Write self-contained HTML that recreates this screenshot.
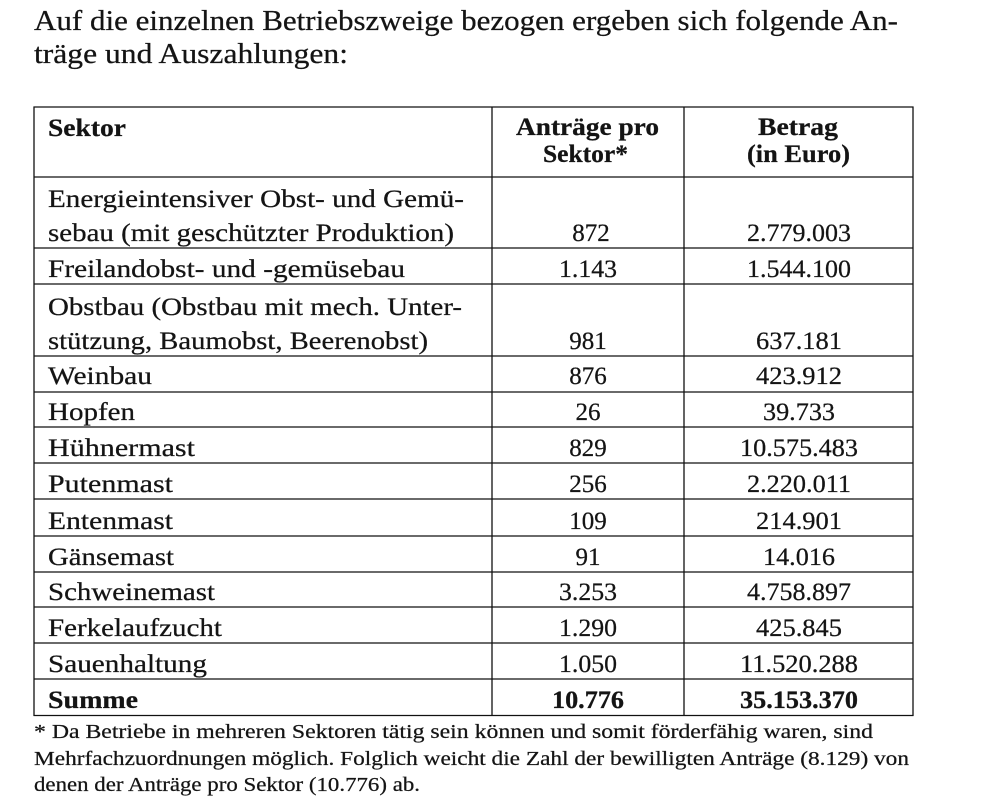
<!DOCTYPE html>
<html>
<head>
<meta charset="utf-8">
<style>
html,body{margin:0;padding:0;background:#fff;}
svg{display:block;}
text{font-family:"Liberation Serif","DejaVu Serif",serif;fill:#141414;stroke:#141414;stroke-width:0.25;}
.t{font-size:28px;}
.h{font-size:25px;font-weight:bold;}
.b{font-size:25px;}
.bb{font-size:25px;font-weight:bold;}
.f{font-size:20px;}
.c{text-anchor:middle;}
</style>
</head>
<body>
<svg width="997" height="802" viewBox="0 0 997 802" xmlns="http://www.w3.org/2000/svg">
<rect width="997" height="802" fill="#fff"/>

<!-- Title -->
<text class="t" x="34" y="30" textLength="864" lengthAdjust="spacingAndGlyphs">Auf die einzelnen Betriebszweige bezogen ergeben sich folgende An-</text>
<text class="t" x="34" y="63" textLength="314" lengthAdjust="spacingAndGlyphs">träge und Auszahlungen:</text>

<!-- Table lines -->
<g stroke="#111" stroke-width="1.3" fill="none">
  <line x1="34" y1="106.5" x2="34" y2="716"/>
  <line x1="492" y1="106.5" x2="492" y2="716"/>
  <line x1="684" y1="106.5" x2="684" y2="716"/>
  <line x1="913" y1="106.5" x2="913" y2="716"/>
  <line x1="33.5" y1="107" x2="913.5" y2="107"/>
  <line x1="33.5" y1="177" x2="913.5" y2="177"/>
  <line x1="33.5" y1="248" x2="913.5" y2="248"/>
  <line x1="33.5" y1="284" x2="913.5" y2="284"/>
  <line x1="33.5" y1="356" x2="913.5" y2="356"/>
  <line x1="33.5" y1="392" x2="913.5" y2="392"/>
  <line x1="33.5" y1="427" x2="913.5" y2="427"/>
  <line x1="33.5" y1="463" x2="913.5" y2="463"/>
  <line x1="33.5" y1="499" x2="913.5" y2="499"/>
  <line x1="33.5" y1="536" x2="913.5" y2="536"/>
  <line x1="33.5" y1="572" x2="913.5" y2="572"/>
  <line x1="33.5" y1="607" x2="913.5" y2="607"/>
  <line x1="33.5" y1="643" x2="913.5" y2="643"/>
  <line x1="33.5" y1="679" x2="913.5" y2="679"/>
  <line x1="33.5" y1="715.5" x2="913.5" y2="715.5"/>
</g>

<!-- Header -->
<text class="h" x="48" y="136" textLength="78" lengthAdjust="spacingAndGlyphs">Sektor</text>
<text class="h c" x="587.5" y="135" textLength="143" lengthAdjust="spacingAndGlyphs">Anträge pro</text>
<text class="h c" x="585.5" y="162" textLength="85" lengthAdjust="spacingAndGlyphs">Sektor*</text>
<text class="h c" x="798" y="135" textLength="80" lengthAdjust="spacingAndGlyphs">Betrag</text>
<text class="h c" x="798.5" y="162" textLength="103" lengthAdjust="spacingAndGlyphs">(in Euro)</text>

<!-- Rows -->
<text class="b" x="48" y="207" textLength="416" lengthAdjust="spacingAndGlyphs">Energieintensiver Obst- und Gemü-</text>
<text class="b" x="48" y="241" textLength="406" lengthAdjust="spacingAndGlyphs">sebau (mit geschützter Produktion)</text>
<text class="b c" x="591" y="241">872</text>
<text class="b c" x="799" y="241" textLength="104" lengthAdjust="spacingAndGlyphs">2.779.003</text>

<text class="b" x="48" y="277" textLength="357" lengthAdjust="spacingAndGlyphs">Freilandobst- und -gemüsebau</text>
<text class="b c" x="588" y="277" textLength="58" lengthAdjust="spacingAndGlyphs">1.143</text>
<text class="b c" x="799" y="277" textLength="104" lengthAdjust="spacingAndGlyphs">1.544.100</text>

<text class="b" x="48" y="315" textLength="414" lengthAdjust="spacingAndGlyphs">Obstbau (Obstbau mit mech. Unter-</text>
<text class="b" x="48" y="349" textLength="380" lengthAdjust="spacingAndGlyphs">stützung, Baumobst, Beerenobst)</text>
<text class="b c" x="588" y="349">981</text>
<text class="b c" x="799" y="349" textLength="86" lengthAdjust="spacingAndGlyphs">637.181</text>

<text class="b" x="48" y="384" textLength="104" lengthAdjust="spacingAndGlyphs">Weinbau</text>
<text class="b c" x="588" y="384">876</text>
<text class="b c" x="799" y="384" textLength="86" lengthAdjust="spacingAndGlyphs">423.912</text>

<text class="b" x="48" y="420" textLength="87" lengthAdjust="spacingAndGlyphs">Hopfen</text>
<text class="b c" x="588" y="420">26</text>
<text class="b c" x="799" y="420" textLength="72" lengthAdjust="spacingAndGlyphs">39.733</text>

<text class="b" x="48" y="456" textLength="147" lengthAdjust="spacingAndGlyphs">Hühnermast</text>
<text class="b c" x="588" y="456">829</text>
<text class="b c" x="799" y="456" textLength="118" lengthAdjust="spacingAndGlyphs">10.575.483</text>

<text class="b" x="48" y="492" textLength="125" lengthAdjust="spacingAndGlyphs">Putenmast</text>
<text class="b c" x="588" y="492">256</text>
<text class="b c" x="799" y="492" textLength="104" lengthAdjust="spacingAndGlyphs">2.220.011</text>

<text class="b" x="48" y="529" textLength="125" lengthAdjust="spacingAndGlyphs">Entenmast</text>
<text class="b c" x="588" y="529">109</text>
<text class="b c" x="799" y="529" textLength="86" lengthAdjust="spacingAndGlyphs">214.901</text>

<text class="b" x="48" y="565" textLength="126" lengthAdjust="spacingAndGlyphs">Gänsemast</text>
<text class="b c" x="588" y="565">91</text>
<text class="b c" x="799" y="565" textLength="72" lengthAdjust="spacingAndGlyphs">14.016</text>

<text class="b" x="48" y="600" textLength="167" lengthAdjust="spacingAndGlyphs">Schweinemast</text>
<text class="b c" x="588" y="600" textLength="58" lengthAdjust="spacingAndGlyphs">3.253</text>
<text class="b c" x="799" y="600" textLength="104" lengthAdjust="spacingAndGlyphs">4.758.897</text>

<text class="b" x="48" y="636" textLength="174" lengthAdjust="spacingAndGlyphs">Ferkelaufzucht</text>
<text class="b c" x="588" y="636" textLength="58" lengthAdjust="spacingAndGlyphs">1.290</text>
<text class="b c" x="799" y="636" textLength="86" lengthAdjust="spacingAndGlyphs">425.845</text>

<text class="b" x="48" y="672" textLength="159" lengthAdjust="spacingAndGlyphs">Sauenhaltung</text>
<text class="b c" x="588" y="672" textLength="58" lengthAdjust="spacingAndGlyphs">1.050</text>
<text class="b c" x="799" y="672" textLength="118" lengthAdjust="spacingAndGlyphs">11.520.288</text>

<text class="bb" x="48" y="708" textLength="90" lengthAdjust="spacingAndGlyphs">Summe</text>
<text class="bb c" x="588" y="708" textLength="72" lengthAdjust="spacingAndGlyphs">10.776</text>
<text class="bb c" x="799" y="708" textLength="118" lengthAdjust="spacingAndGlyphs">35.153.370</text>

<!-- Footnote -->
<text class="f" x="34" y="738" textLength="839" lengthAdjust="spacingAndGlyphs">* Da Betriebe in mehreren Sektoren tätig sein können und somit förderfähig waren, sind</text>
<text class="f" x="34" y="765" textLength="875" lengthAdjust="spacingAndGlyphs">Mehrfachzuordnungen möglich. Folglich weicht die Zahl der bewilligten Anträge (8.129) von</text>
<text class="f" x="34" y="791" textLength="386" lengthAdjust="spacingAndGlyphs">denen der Anträge pro Sektor (10.776) ab.</text>
</svg>
</body>
</html>
